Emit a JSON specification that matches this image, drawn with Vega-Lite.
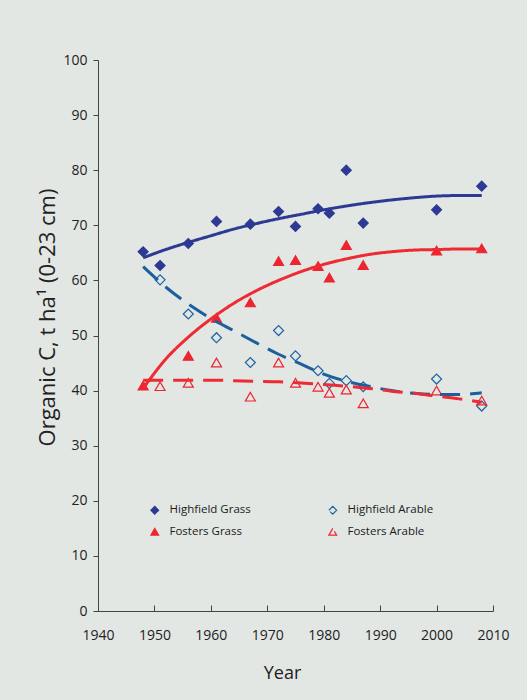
{
  "$schema": "https://vega.github.io/schema/vega-lite/v6.json",
  "width": 395,
  "height": 551,
  "autosize": "none",
  "padding": {"left": 98, "top": 60, "right": 34, "bottom": 89},
  "background": "#e2e7e4",
  "config": {
    "view": {"stroke": null},
    "font": "Open Sans"
  },
  "datasets": {
    "observed": [
      {"series": "Highfield Grass", "year": 1948, "c": 65.2},
      {"series": "Highfield Grass", "year": 1951, "c": 62.7},
      {"series": "Highfield Grass", "year": 1956, "c": 66.7},
      {"series": "Highfield Grass", "year": 1961, "c": 70.7},
      {"series": "Highfield Grass", "year": 1967, "c": 70.2},
      {"series": "Highfield Grass", "year": 1972, "c": 72.5},
      {"series": "Highfield Grass", "year": 1975, "c": 69.8},
      {"series": "Highfield Grass", "year": 1979, "c": 73.0},
      {"series": "Highfield Grass", "year": 1981, "c": 72.2},
      {"series": "Highfield Grass", "year": 1984, "c": 80.0},
      {"series": "Highfield Grass", "year": 1987, "c": 70.4},
      {"series": "Highfield Grass", "year": 2000, "c": 72.8},
      {"series": "Highfield Grass", "year": 2008, "c": 77.1},
      {"series": "Highfield Arable", "year": 1951, "c": 60.1},
      {"series": "Highfield Arable", "year": 1956, "c": 53.9},
      {"series": "Highfield Arable", "year": 1961, "c": 49.6},
      {"series": "Highfield Arable", "year": 1967, "c": 45.1},
      {"series": "Highfield Arable", "year": 1972, "c": 50.9},
      {"series": "Highfield Arable", "year": 1975, "c": 46.3},
      {"series": "Highfield Arable", "year": 1979, "c": 43.6},
      {"series": "Highfield Arable", "year": 1981, "c": 41.3},
      {"series": "Highfield Arable", "year": 1984, "c": 41.8},
      {"series": "Highfield Arable", "year": 1987, "c": 40.7},
      {"series": "Highfield Arable", "year": 2000, "c": 42.1},
      {"series": "Highfield Arable", "year": 2008, "c": 37.2},
      {"series": "Fosters Grass", "year": 1948, "c": 40.9},
      {"series": "Fosters Grass", "year": 1956, "c": 46.3},
      {"series": "Fosters Grass", "year": 1961, "c": 53.2},
      {"series": "Fosters Grass", "year": 1967, "c": 56.0},
      {"series": "Fosters Grass", "year": 1972, "c": 63.5},
      {"series": "Fosters Grass", "year": 1975, "c": 63.7},
      {"series": "Fosters Grass", "year": 1979, "c": 62.6},
      {"series": "Fosters Grass", "year": 1981, "c": 60.5},
      {"series": "Fosters Grass", "year": 1984, "c": 66.4},
      {"series": "Fosters Grass", "year": 1987, "c": 62.8},
      {"series": "Fosters Grass", "year": 2000, "c": 65.4},
      {"series": "Fosters Grass", "year": 2008, "c": 65.8},
      {"series": "Fosters Arable", "year": 1951, "c": 40.8},
      {"series": "Fosters Arable", "year": 1956, "c": 41.4},
      {"series": "Fosters Arable", "year": 1961, "c": 45.1},
      {"series": "Fosters Arable", "year": 1967, "c": 38.9},
      {"series": "Fosters Arable", "year": 1972, "c": 45.1},
      {"series": "Fosters Arable", "year": 1975, "c": 41.4},
      {"series": "Fosters Arable", "year": 1979, "c": 40.7},
      {"series": "Fosters Arable", "year": 1981, "c": 39.6},
      {"series": "Fosters Arable", "year": 1984, "c": 40.2},
      {"series": "Fosters Arable", "year": 1987, "c": 37.7},
      {"series": "Fosters Arable", "year": 2000, "c": 40.0},
      {"series": "Fosters Arable", "year": 2008, "c": 38.2}
    ],
    "fitted": [
      {"series": "Highfield Grass", "year": 1948, "c": 64.1},
      {"series": "Highfield Grass", "year": 1952, "c": 65.6},
      {"series": "Highfield Grass", "year": 1956, "c": 66.9},
      {"series": "Highfield Grass", "year": 1960, "c": 68.1},
      {"series": "Highfield Grass", "year": 1964, "c": 69.3},
      {"series": "Highfield Grass", "year": 1968, "c": 70.3},
      {"series": "Highfield Grass", "year": 1972, "c": 71.2},
      {"series": "Highfield Grass", "year": 1976, "c": 72.0},
      {"series": "Highfield Grass", "year": 1980, "c": 72.8},
      {"series": "Highfield Grass", "year": 1984, "c": 73.5},
      {"series": "Highfield Grass", "year": 1988, "c": 74.1},
      {"series": "Highfield Grass", "year": 1992, "c": 74.6},
      {"series": "Highfield Grass", "year": 1996, "c": 75.0},
      {"series": "Highfield Grass", "year": 2000, "c": 75.3},
      {"series": "Highfield Grass", "year": 2004, "c": 75.4},
      {"series": "Highfield Grass", "year": 2008, "c": 75.4},
      {"series": "Highfield Arable", "year": 1948, "c": 62.5},
      {"series": "Highfield Arable", "year": 1952, "c": 58.8},
      {"series": "Highfield Arable", "year": 1956, "c": 55.7},
      {"series": "Highfield Arable", "year": 1960, "c": 53.1},
      {"series": "Highfield Arable", "year": 1964, "c": 50.9},
      {"series": "Highfield Arable", "year": 1968, "c": 48.7},
      {"series": "Highfield Arable", "year": 1972, "c": 46.6},
      {"series": "Highfield Arable", "year": 1976, "c": 44.8},
      {"series": "Highfield Arable", "year": 1980, "c": 43.0},
      {"series": "Highfield Arable", "year": 1984, "c": 41.7},
      {"series": "Highfield Arable", "year": 1988, "c": 40.8},
      {"series": "Highfield Arable", "year": 1992, "c": 40.0},
      {"series": "Highfield Arable", "year": 1996, "c": 39.5},
      {"series": "Highfield Arable", "year": 2000, "c": 39.3},
      {"series": "Highfield Arable", "year": 2004, "c": 39.3},
      {"series": "Highfield Arable", "year": 2008, "c": 39.6},
      {"series": "Fosters Grass", "year": 1948, "c": 40.4},
      {"series": "Fosters Grass", "year": 1952, "c": 45.7},
      {"series": "Fosters Grass", "year": 1956, "c": 49.7},
      {"series": "Fosters Grass", "year": 1960, "c": 53.0},
      {"series": "Fosters Grass", "year": 1964, "c": 55.8},
      {"series": "Fosters Grass", "year": 1968, "c": 58.1},
      {"series": "Fosters Grass", "year": 1972, "c": 60.0},
      {"series": "Fosters Grass", "year": 1976, "c": 61.6},
      {"series": "Fosters Grass", "year": 1980, "c": 62.9},
      {"series": "Fosters Grass", "year": 1984, "c": 63.9},
      {"series": "Fosters Grass", "year": 1988, "c": 64.7},
      {"series": "Fosters Grass", "year": 1992, "c": 65.2},
      {"series": "Fosters Grass", "year": 1996, "c": 65.5},
      {"series": "Fosters Grass", "year": 2000, "c": 65.6},
      {"series": "Fosters Grass", "year": 2004, "c": 65.7},
      {"series": "Fosters Grass", "year": 2008, "c": 65.7},
      {"series": "Fosters Arable", "year": 1948, "c": 41.9},
      {"series": "Fosters Arable", "year": 1952, "c": 41.9},
      {"series": "Fosters Arable", "year": 1956, "c": 41.9},
      {"series": "Fosters Arable", "year": 1960, "c": 41.9},
      {"series": "Fosters Arable", "year": 1964, "c": 41.8},
      {"series": "Fosters Arable", "year": 1968, "c": 41.7},
      {"series": "Fosters Arable", "year": 1972, "c": 41.6},
      {"series": "Fosters Arable", "year": 1976, "c": 41.4},
      {"series": "Fosters Arable", "year": 1980, "c": 41.1},
      {"series": "Fosters Arable", "year": 1984, "c": 40.8},
      {"series": "Fosters Arable", "year": 1988, "c": 40.4},
      {"series": "Fosters Arable", "year": 1992, "c": 39.9},
      {"series": "Fosters Arable", "year": 1996, "c": 39.5},
      {"series": "Fosters Arable", "year": 2000, "c": 39.0},
      {"series": "Fosters Arable", "year": 2004, "c": 38.5},
      {"series": "Fosters Arable", "year": 2008, "c": 37.9}
    ]
  },
  "encoding": {
    "x": {
      "field": "year",
      "type": "quantitative",
      "scale": {"domain": [1940, 2010], "nice": false, "zero": false},
      "axis": {
        "title": "Year",
        "values": [1940, 1950, 1960, 1970, 1980, 1990, 2000, 2010],
        "format": "d",
        "grid": false,
        "labelFlush": false,
        "labelOverlap": false,
        "domainColor": "#444444",
        "tickColor": "#444444",
        "tickSize": -6,
        "labelPadding": 23,
        "labelFont": "Open Sans",
        "labelFontSize": 14,
        "labelColor": "#222222",
        "titleFont": "Open Sans",
        "titleFontSize": 18,
        "titleFontWeight": "normal",
        "titleColor": "#222222",
        "titleX": 184,
        "titleY": 67,
        "titleBaseline": "alphabetic"
      }
    },
    "y": {
      "field": "c",
      "type": "quantitative",
      "scale": {"domain": [0, 100], "nice": false},
      "axis": {
        "title": "Organic C, t ha¹  (0-23 cm)",
        "values": [0, 10, 20, 30, 40, 50, 60, 70, 80, 90, 100],
        "grid": false,
        "labelFlush": false,
        "domainColor": "#444444",
        "tickColor": "#444444",
        "tickSize": 5,
        "labelPadding": 6,
        "labelFont": "Open Sans",
        "labelFontSize": 14,
        "labelColor": "#222222",
        "titleFont": "Open Sans",
        "titleFontSize": 22,
        "titleFontWeight": "normal",
        "titleColor": "#222222",
        "titleAngle": -90,
        "titleAlign": "center",
        "titleBaseline": "middle",
        "titleX": -51,
        "titleY": 257
      }
    }
  },
  "layer": [
    {
      "data": {"name": "observed"},
      "mark": {"type": "point", "size": 100, "opacity": 1, "fillOpacity": 1, "strokeWidth": 1.2},
      "encoding": {
        "shape": {
          "field": "series",
          "type": "nominal",
          "title": null,
          "legend": {
            "orient": "none",
            "legendX": 51,
            "legendY": 444,
            "columns": 2,
            "columnPadding": 75,
            "rowPadding": 8,
            "padding": 0,
            "labelFont": "Open Sans",
            "labelFontSize": 11.5,
            "labelColor": "#1a1a1a",
            "labelOffset": 9,
            "symbolSize": 60,
            "symbolStrokeWidth": 1.2,
            "symbolOpacity": 1
          },
          "scale": {
            "domain": ["Highfield Grass", "Fosters Grass", "Highfield Arable", "Fosters Arable"],
            "range": ["diamond", "triangle-up", "diamond", "triangle-up"]
          }
        },
        "fill": {
          "field": "series",
          "type": "nominal",
          "title": null,
          "legend": {
            "orient": "none",
            "legendX": 51,
            "legendY": 444,
            "columns": 2,
            "columnPadding": 75,
            "rowPadding": 8,
            "padding": 0,
            "labelFont": "Open Sans",
            "labelFontSize": 11.5,
            "labelColor": "#1a1a1a",
            "labelOffset": 9,
            "symbolSize": 60,
            "symbolStrokeWidth": 1.2,
            "symbolOpacity": 1
          },
          "scale": {
            "domain": ["Highfield Grass", "Fosters Grass", "Highfield Arable", "Fosters Arable"],
            "range": ["#2d3a93", "#ed2530", "transparent", "transparent"]
          }
        },
        "stroke": {
          "field": "series",
          "type": "nominal",
          "title": null,
          "legend": {
            "orient": "none",
            "legendX": 51,
            "legendY": 444,
            "columns": 2,
            "columnPadding": 75,
            "rowPadding": 8,
            "padding": 0,
            "labelFont": "Open Sans",
            "labelFontSize": 11.5,
            "labelColor": "#1a1a1a",
            "labelOffset": 9,
            "symbolSize": 60,
            "symbolStrokeWidth": 1.2,
            "symbolOpacity": 1
          },
          "scale": {
            "domain": ["Highfield Grass", "Fosters Grass", "Highfield Arable", "Fosters Arable"],
            "range": ["#2d3a93", "#ed2530", "#1f63a3", "#ed2530"]
          }
        }
      }
    },
    {
      "data": {"name": "fitted"},
      "mark": {"type": "line", "strokeWidth": 3, "interpolate": "monotone", "strokeCap": "butt"},
      "encoding": {
        "detail": {"field": "series", "type": "nominal"},
        "color": {
          "field": "series",
          "type": "nominal",
          "legend": null,
          "scale": {
            "domain": ["Highfield Grass", "Fosters Grass", "Highfield Arable", "Fosters Arable"],
            "range": ["#2d3a93", "#ee2a33", "#1d5e9e", "#ee2a33"]
          }
        },
        "strokeDash": {
          "field": "series",
          "type": "nominal",
          "legend": null,
          "scale": {
            "domain": ["Highfield Grass", "Fosters Grass", "Highfield Arable", "Fosters Arable"],
            "range": [[1, 0], [1, 0], [20, 10], [20, 10]]
          }
        }
      }
    }
  ]
}
